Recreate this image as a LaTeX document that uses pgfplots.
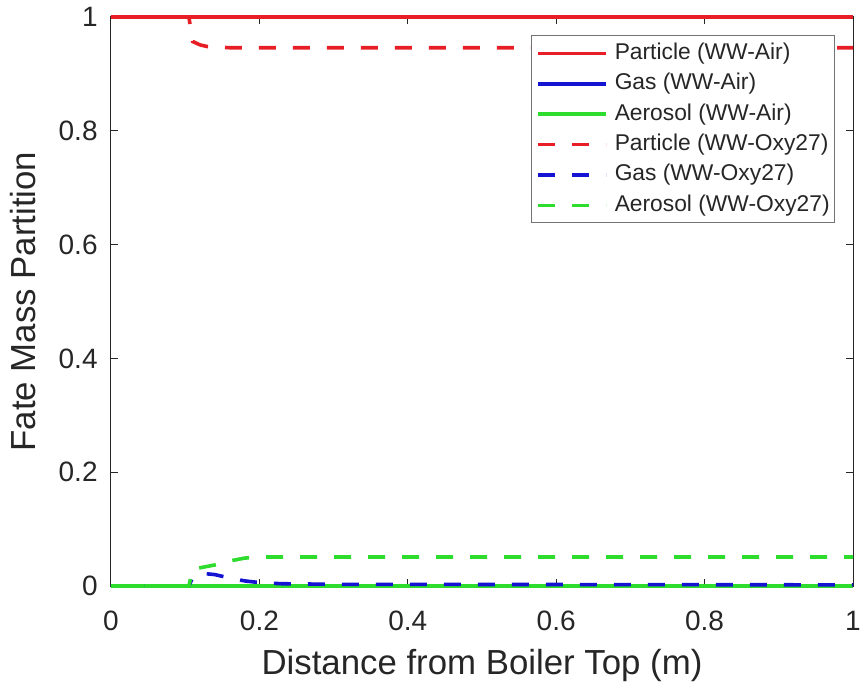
\documentclass[border=0pt]{standalone}
\usepackage{fontspec}
\setmainfont{Liberation Sans}
\usepackage{pgfplots}
\pgfplotsset{compat=1.18}
\definecolor{mred}{HTML}{E81E26}
\definecolor{mblue}{HTML}{1414D2}
\definecolor{mgreen}{HTML}{2EDC2E}
\definecolor{axgray}{HTML}{262626}

\begin{document}
\begin{tikzpicture}
\useasboundingbox (-55.5pt,-49.5pt) rectangle (375pt,293pt);
\begin{axis}[scale only axis,width=371pt,height=284.5pt,
 xmin=0,xmax=1,ymin=0,ymax=1,
 xtick={0,0.2,...,1},ytick={0,0.2,...,1},
 clip=false,
 axis line style={axgray,line width=0.5pt},
 tick style={axgray,line width=0.5pt},
 tick align=inside,major tick length=3.5pt,
 /pgf/number format/assume math mode=true,
 ticklabel style={font=\fontsize{14}{16}\selectfont,text=axgray},
 xticklabel style={anchor=base,yshift=-22pt,inner sep=0pt},
 yticklabel style={anchor=east,xshift=-6.5pt,inner sep=0pt},
 xlabel={Distance from Boiler Top (m)},
 ylabel={Fate Mass Partition},
 label style={font=\fontsize{17.4}{19}\selectfont,text=axgray},
 xlabel style={at={(axis description cs:0.5,-0.1564)},anchor=base},
 ylabel style={at={(axis description cs:-0.1024,0.5)},anchor=base},
 legend cell align=left,
 legend image code/.code={\draw[#1] (0pt,0pt) -- (34pt,0pt);},
 legend style={at={(0.976,0.968)},anchor=north east,
   draw=black!55,line width=0.5pt,fill=white,
   inner xsep=2.5pt,inner ysep=3.3pt,row sep=4.2pt,column sep=3.5pt,
   font=\fontsize{11.4}{13}\selectfont,text=axgray,
   nodes={inner sep=0pt,text height=8.5pt,text depth=2.5pt}},
 every axis plot/.append style={line width=1.8pt}]
% WW-Air
\addplot[mred] coordinates {(0,1)(1,1)};
\addplot[mblue] coordinates {(0,0)(1,0)};
\addplot[mgreen] coordinates {(0,0)(1,0)};
% WW-Oxy27
\addplot[mred,dash pattern=on 8.5pt off 8.5pt] coordinates {
 (0,1)(0.105,1)(0.11,0.957)(0.12,0.951)(0.13,0.948)(0.16,0.946)(1,0.946)};
\addplot[mblue,dash pattern=on 8.5pt off 8.5pt] coordinates {
 (0,0)(0.105,0)(0.11,0.015)(0.125,0.022)(0.14,0.020)(0.16,0.014)(0.18,0.009)
 (0.20,0.006)(0.23,0.004)(0.30,0.003)(1,0.002)};
\addplot[mgreen,dash pattern=on 8.5pt off 8.5pt] coordinates {
 (0,0)(0.105,0)(0.11,0.030)(0.12,0.032)(0.14,0.037)(0.16,0.044)(0.18,0.049)
 (0.20,0.051)(1,0.051)};
\legend{Particle (WW-Air),Gas (WW-Air),Aerosol (WW-Air),
 Particle (WW-Oxy27),Gas (WW-Oxy27),Aerosol (WW-Oxy27)}
\end{axis}
\end{tikzpicture}
\end{document}
